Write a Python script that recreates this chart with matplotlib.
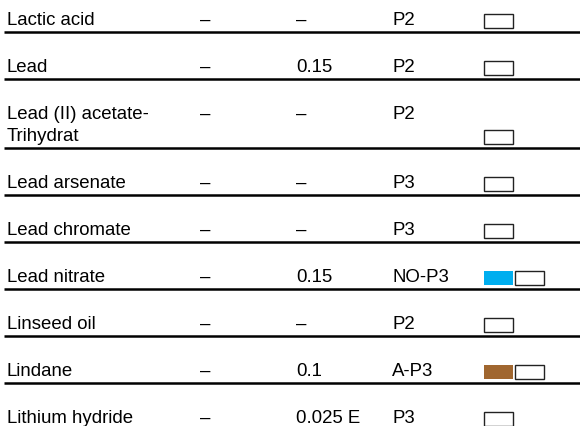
import matplotlib.pyplot as plt
from matplotlib.patches import Rectangle

# Tabellendaten
stoffe = ['Lactic acid', 'Lead', 'Lead (II) acetate-\nTrihydrat', 'Lead arsenate',
          'Lead chromate', 'Lead nitrate', 'Linseed oil', 'Lindane', 'Lithium hydride']
spalte1 = ['–', '–', '–', '–', '–', '–', '–', '–', '–']
spalte2 = ['–', '0.15', '–', '–', '–', '0.15', '–', '0.1', '0.025 E']
filter_typ = ['P2', 'P2', 'P2', 'P3', 'P3', 'NO-P3', 'P2', 'A-P3', 'P3']
farbe = [None, None, None, None, None, '#00AEEF', None, '#A0662F', None]

plt.rcParams['font.family'] = ['Liberation Sans', 'DejaVu Sans']

fig = plt.figure(figsize=(5.8, 4.26), dpi=100)
ax = fig.add_axes([0, 0, 1, 1])
ax.set_xlim(0, 580)
ax.set_ylim(426, 0)
ax.axis('off')

# Layout in Pixeln
zeilen_hoehe = 47
zeilen_abstand = 22
x_name, x_s1, x_s2, x_filter, x_box = 7, 200, 296, 392, 484
box_b, box_h = 29, 14
fs = 13.4

y = -15
for i in range(len(stoffe)):
    teile = stoffe[i].split('\n')
    n = len(teile)
    y = y + zeilen_hoehe + zeilen_abstand * (n - 1)
    basis = y - 7 - zeilen_abstand * (n - 1)
    for k, t in enumerate(teile):
        ax.text(x_name, basis + k * zeilen_abstand, t, fontsize=fs, va='baseline', ha='left')
    ax.text(x_s1, basis, spalte1[i], fontsize=fs, va='baseline', ha='left')
    ax.text(x_s2, basis, spalte2[i], fontsize=fs, va='baseline', ha='left')
    ax.text(x_filter, basis, filter_typ[i], fontsize=fs, va='baseline', ha='left')
    bx = x_box
    if farbe[i] is not None:
        ax.add_patch(Rectangle((bx, y - 18), box_b, box_h, facecolor=farbe[i], edgecolor='none'))
        bx = bx + box_b + 2
    ax.add_patch(Rectangle((bx, y - 18), box_b, box_h, facecolor='white', edgecolor='#222222', linewidth=1.0))
    ax.hlines(y, 4, 580, color='black', linewidth=1.8)

fig.savefig('out.png', dpi=100)
